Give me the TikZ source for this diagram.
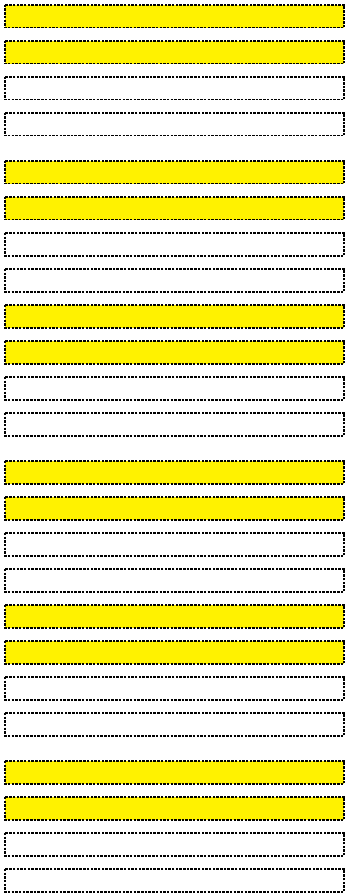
\documentclass[tikz,border=0pt]{standalone}
\begin{document}
\begin{tikzpicture}[x=1pt,y=-1pt,
  bar/.style={draw=black,line width=1.6pt,dash pattern=on 2.5pt off 1.2pt},
  ybar/.style={bar,fill=yellow},
  wbar/.style={bar,fill=white}]
\useasboundingbox (0,0) rectangle (347,893);
\foreach \t/\s [count=\i] in {4/ybar,40/ybar,76/wbar,112/wbar,160/ybar,196/ybar,232/wbar,268/wbar,304/ybar,340/ybar,376/wbar,412/wbar,460/ybar,496/ybar,532/wbar,568/wbar,604/ybar,640/ybar,676/wbar,712/wbar,760/ybar,796/ybar,832/wbar,868/wbar}{
  \path[\s] (4.8,\t+0.8) rectangle (344.2,\t+23.7);
}
\end{tikzpicture}
\end{document}
